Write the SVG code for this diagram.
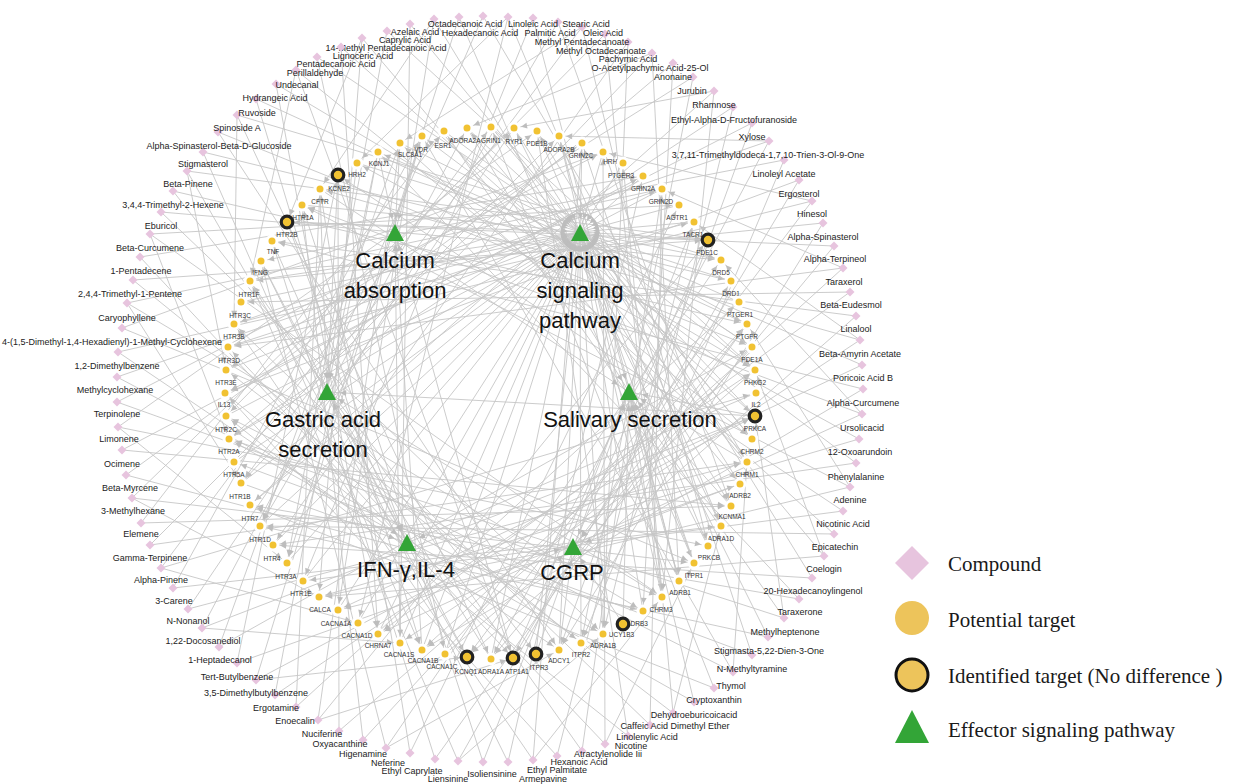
<svg xmlns="http://www.w3.org/2000/svg" width="1238" height="784" viewBox="0 0 1238 784">
<style>
.ce path{stroke:#c6c6c6;stroke-width:0.9;fill:none;marker-end:url(#m1)}
.pe path{stroke:#c6c6c6;stroke-width:0.9;fill:none;marker-end:url(#m2)}
#compounds use{fill:#e7c4de}
#compounds text{font-family:"Liberation Sans",Arial,sans-serif;font-size:9px;fill:#222;text-anchor:middle}
#targets circle{fill:#f1c232;stroke:#fff;stroke-width:3}
#targets circle.id{stroke:#222;stroke-width:3.2}
#targets text{font-family:"Liberation Sans",Arial,sans-serif;font-size:6.5px;fill:#333;text-anchor:middle}
#pathways polygon{fill:#33a537}
#pathways text{font-family:"Liberation Sans",Arial,sans-serif;font-size:22px;fill:#111;text-anchor:middle}
#legend text{font-family:"Liberation Serif","Times New Roman",serif;font-size:21px;fill:#1a1a1a}
</style>
<defs>
<marker id="m1" viewBox="0 0 10 10" refX="22" refY="5" markerWidth="6" markerHeight="6" markerUnits="userSpaceOnUse" orient="auto" overflow="visible"><path d="M0 0L10 5L0 10z" fill="#bdbdbd"/></marker>
<marker id="m2" viewBox="0 0 10 10" refX="32" refY="5" markerWidth="6" markerHeight="6" markerUnits="userSpaceOnUse" orient="auto" overflow="visible"><path d="M0 0L10 5L0 10z" fill="#bdbdbd"/></marker>
<path id="d" d="M0 -4.5L4.5 0L0 4.5L-4.5 0z"/>
</defs>
<rect width="1238" height="784" fill="#fff"/>
<g id="connectors">
<g class="ce">
<path d="M117 377 603 634"/><path d="M117 377 662 189"/>
<path d="M117 402 662 597"/><path d="M117 402 603 152"/>
<path d="M118 427 708 546"/><path d="M118 427 537 131"/><path d="M118 427 287 563"/>
<path d="M122 450 731 506"/><path d="M122 450 643 176"/>
<path d="M126 475 643 611"/><path d="M126 475 582 143"/>
<path d="M132 498 694 563"/><path d="M132 498 514 128"/><path d="M132 498 319 597"/>
<path d="M141 523 731 506"/><path d="M141 523 444 131"/>
<path d="M150 545 747 462"/><path d="M150 545 559 136"/>
<path d="M161 568 756 393"/><path d="M161 568 491 127"/><path d="M161 568 358 623"/>
<path d="M173 588 721 526"/><path d="M173 588 422 136"/>
<path d="M188 609 747 462"/><path d="M188 609 514 128"/>
<path d="M202 628 755 416"/><path d="M202 628 467 128"/><path d="M202 628 400 643"/>
<path d="M219 647 752 347"/><path d="M219 647 400 143"/>
<path d="M237 663 740 484"/><path d="M237 663 338 175"/>
<path d="M256 680 755 416"/><path d="M256 680 422 136"/><path d="M256 680 467 657"/>
<path d="M275 695 755 370"/><path d="M275 695 378 152"/>
<path d="M296 707 739 302"/><path d="M296 707 320 189"/>
<path d="M318 720 708 240"/><path d="M318 720 400 143"/><path d="M318 720 513 658"/>
<path d="M339 731 755 370"/><path d="M339 731 338 175"/>
<path d="M363 740 747 324"/><path d="M363 740 302 205"/>
<path d="M386 748 721 260"/><path d="M386 748 261 261"/><path d="M386 748 559 650"/>
<path d="M410 753 679 205"/><path d="M410 753 320 189"/>
<path d="M435 759 747 324"/><path d="M435 759 272 241"/>
<path d="M458 761 731 281"/><path d="M458 761 250 281"/><path d="M458 761 603 634"/>
<path d="M483 762 694 222"/><path d="M483 762 302 205"/>
<path d="M508 762 643 176"/><path d="M508 762 261 261"/>
<path d="M533 760 582 143"/><path d="M533 760 234 324"/><path d="M533 760 662 597"/>
<path d="M557 756 694 222"/><path d="M557 756 225 393"/>
<path d="M582 751 662 189"/><path d="M582 751 250 281"/>
<path d="M605 744 603 152"/><path d="M605 744 228 347"/><path d="M605 744 694 563"/>
<path d="M628 736 537 131"/><path d="M628 736 226 416"/>
<path d="M650 725 662 189"/><path d="M650 725 234 324"/>
<path d="M673 713 623 163"/><path d="M673 713 226 370"/><path d="M673 713 721 526"/>
<path d="M694 702 559 136"/><path d="M694 702 229 439"/>
<path d="M714 688 491 127"/><path d="M714 688 250 505"/>
<path d="M733 672 422 136"/><path d="M733 672 226 416"/><path d="M733 672 747 462"/>
<path d="M752 655 582 143"/><path d="M752 655 234 462"/>
<path d="M768 637 514 128"/><path d="M768 637 260 526"/>
<path d="M784 618 444 131"/><path d="M784 618 229 439"/><path d="M784 618 755 416"/>
<path d="M799 599 378 152"/><path d="M799 599 250 505"/>
<path d="M812 578 537 131"/><path d="M812 578 273 545"/>
<path d="M824 556 467 128"/><path d="M824 556 319 597"/><path d="M824 556 755 370"/>
<path d="M834 534 400 143"/><path d="M834 534 260 526"/>
<path d="M843 511 338 175"/><path d="M843 511 303 581"/>
<path d="M850 487 302 205"/><path d="M850 487 338 610"/><path d="M850 487 747 324"/>
<path d="M856 463 422 136"/><path d="M856 463 273 545"/>
<path d="M859 439 357 163"/><path d="M859 439 319 597"/>
<path d="M862 414 302 205"/><path d="M862 414 378 634"/><path d="M862 414 721 260"/>
<path d="M863 389 272 241"/><path d="M863 389 422 650"/>
<path d="M862 365 378 152"/><path d="M862 365 338 610"/>
<path d="M860 340 320 189"/><path d="M860 340 400 643"/><path d="M860 340 694 222"/>
<path d="M856 316 272 241"/><path d="M856 316 467 657"/>
<path d="M850 292 241 302"/><path d="M850 292 378 634"/>
<path d="M843 268 228 347"/><path d="M843 268 422 650"/><path d="M843 268 662 189"/>
<path d="M834 246 287 222"/><path d="M834 246 491 659"/>
<path d="M823 223 250 281"/><path d="M823 223 559 650"/>
<path d="M812 201 228 347"/><path d="M812 201 467 657"/><path d="M812 201 603 152"/>
<path d="M799 180 225 393"/><path d="M799 180 513 658"/>
<path d="M784 160 261 261"/><path d="M784 160 581 643"/>
<path d="M769 141 234 324"/><path d="M769 141 491 659"/><path d="M769 141 559 136"/>
<path d="M752 123 225 393"/><path d="M752 123 559 650"/>
<path d="M733 107 229 439"/><path d="M733 107 603 634"/>
<path d="M714 91 250 505"/><path d="M714 91 662 597"/><path d="M714 91 514 128"/>
<path d="M693 77 226 370"/><path d="M693 77 581 643"/>
<path d="M673 63 229 439"/><path d="M673 63 643 611"/>
<path d="M652 53 241 483"/><path d="M652 53 679 581"/><path d="M652 53 467 128"/>
<path d="M628 42 273 545"/><path d="M628 42 603 634"/>
<path d="M605 34 226 416"/><path d="M605 34 662 597"/>
<path d="M582 27 241 483"/><path d="M582 27 708 546"/><path d="M582 27 400 143"/>
<path d="M558 22 260 526"/><path d="M558 22 731 506"/>
<path d="M533 18 303 581"/><path d="M533 18 679 581"/>
<path d="M508 17 358 623"/><path d="M508 17 721 526"/><path d="M508 17 357 163"/>
<path d="M483 16 260 526"/><path d="M483 16 747 462"/>
<path d="M459 17 287 563"/><path d="M459 17 694 563"/>
<path d="M434 19 338 610"/><path d="M434 19 731 506"/><path d="M434 19 320 189"/>
<path d="M410 24 400 643"/><path d="M410 24 752 439"/>
<path d="M387 31 287 563"/><path d="M387 31 755 370"/>
<path d="M362 38 319 597"/><path d="M362 38 740 484"/><path d="M362 38 287 222"/>
<path d="M341 47 378 634"/><path d="M341 47 755 416"/>
<path d="M317 57 445 654"/><path d="M317 57 752 347"/>
<path d="M296 70 513 658"/><path d="M296 70 752 439"/><path d="M296 70 250 281"/>
<path d="M276 84 378 634"/><path d="M276 84 755 370"/>
<path d="M256 99 422 650"/><path d="M256 99 747 324"/>
<path d="M237 115 491 659"/><path d="M237 115 721 260"/><path d="M237 115 234 324"/>
<path d="M218 132 559 650"/><path d="M218 132 752 347"/>
<path d="M203 152 422 650"/><path d="M203 152 731 281"/>
<path d="M187 171 467 657"/><path d="M187 171 708 240"/><path d="M187 171 226 370"/>
<path d="M173 191 536 654"/><path d="M173 191 747 324"/>
<path d="M161 212 603 634"/><path d="M161 212 721 260"/>
<path d="M150 234 662 597"/><path d="M150 234 679 205"/><path d="M150 234 229 439"/>
<path d="M140 257 513 658"/><path d="M140 257 643 176"/>
<path d="M133 280 581 643"/><path d="M133 280 708 240"/>
<path d="M127 303 643 611"/><path d="M127 303 662 189"/><path d="M127 303 241 483"/>
<path d="M122 328 694 563"/><path d="M122 328 603 152"/>
<path d="M118 352 559 650"/><path d="M118 352 694 222"/>
</g>
<g class="pe">
<path d="M400 143 395 232"/><path d="M400 143 580 232"/>
<path d="M422 136 395 232"/>
<path d="M444 131 580 232"/>
<path d="M467 128 580 232"/><path d="M467 128 629 392"/>
<path d="M491 127 580 232"/>
<path d="M514 128 580 232"/>
<path d="M537 131 580 232"/>
<path d="M559 136 629 392"/>
<path d="M582 143 580 232"/>
<path d="M603 152 580 232"/>
<path d="M623 163 580 232"/>
<path d="M643 176 580 232"/>
<path d="M662 189 580 232"/>
<path d="M679 205 580 232"/>
<path d="M694 222 580 232"/>
<path d="M708 240 580 232"/><path d="M708 240 573 547"/>
<path d="M721 260 580 232"/>
<path d="M731 281 580 232"/>
<path d="M739 302 580 232"/>
<path d="M747 324 580 232"/><path d="M747 324 573 547"/>
<path d="M752 347 580 232"/><path d="M752 347 573 547"/>
<path d="M755 370 580 232"/>
<path d="M756 393 407 543"/>
<path d="M755 416 580 232"/><path d="M755 416 629 392"/><path d="M755 416 327 392"/>
<path d="M752 439 580 232"/>
<path d="M747 462 580 232"/><path d="M747 462 629 392"/>
<path d="M740 484 580 232"/><path d="M740 484 573 547"/>
<path d="M731 506 629 392"/>
<path d="M721 526 580 232"/>
<path d="M708 546 580 232"/><path d="M708 546 629 392"/>
<path d="M694 563 580 232"/><path d="M694 563 629 392"/>
<path d="M679 581 580 232"/><path d="M679 581 629 392"/>
<path d="M662 597 580 232"/><path d="M662 597 629 392"/><path d="M662 597 327 392"/>
<path d="M643 611 580 232"/>
<path d="M623 624 573 547"/><path d="M623 624 629 392"/>
<path d="M603 634 580 232"/>
<path d="M581 643 580 232"/>
<path d="M559 650 580 232"/><path d="M559 650 573 547"/>
<path d="M536 654 580 232"/><path d="M536 654 629 392"/>
<path d="M513 658 395 232"/><path d="M513 658 629 392"/>
<path d="M491 659 580 232"/><path d="M491 659 327 392"/>
<path d="M467 657 327 392"/>
<path d="M445 654 580 232"/><path d="M445 654 573 547"/>
<path d="M422 650 580 232"/><path d="M422 650 395 232"/>
<path d="M400 643 580 232"/><path d="M400 643 395 232"/>
<path d="M378 634 580 232"/>
<path d="M358 623 580 232"/>
<path d="M338 610 580 232"/>
<path d="M319 597 573 547"/>
<path d="M303 581 580 232"/>
<path d="M287 563 580 232"/>
<path d="M273 545 580 232"/>
<path d="M260 526 580 232"/>
<path d="M250 505 580 232"/>
<path d="M241 483 580 232"/><path d="M241 483 407 543"/>
<path d="M234 462 580 232"/>
<path d="M229 439 580 232"/>
<path d="M226 416 580 232"/>
<path d="M225 393 407 543"/>
<path d="M226 370 580 232"/>
<path d="M228 347 580 232"/>
<path d="M234 324 580 232"/>
<path d="M241 302 580 232"/>
<path d="M250 281 580 232"/>
<path d="M261 261 407 543"/>
<path d="M272 241 407 543"/>
<path d="M287 222 580 232"/><path d="M287 222 407 543"/>
<path d="M302 205 580 232"/>
<path d="M320 189 629 392"/><path d="M320 189 327 392"/>
<path d="M338 175 327 392"/>
<path d="M357 163 327 392"/><path d="M357 163 580 232"/>
<path d="M378 152 327 392"/><path d="M378 152 395 232"/>
</g>
</g>
<g id="compounds">
<g id="cmp-12dimethylbenzene"><use href="#d" x="117" y="377"/><text x="117" y="369">1,2-Dimethylbenzene</text></g>
<g id="cmp-methylcyclohexane"><use href="#d" x="117" y="402"/><text x="115" y="393">Methylcyclohexane</text></g>
<g id="cmp-terpinolene"><use href="#d" x="118" y="427"/><text x="117" y="417">Terpinolene</text></g>
<g id="cmp-limonene"><use href="#d" x="122" y="450"/><text x="119" y="442">Limonene</text></g>
<g id="cmp-ocimene"><use href="#d" x="126" y="475"/><text x="122" y="467">Ocimene</text></g>
<g id="cmp-betamyrcene"><use href="#d" x="132" y="498"/><text x="130" y="491">Beta-Myrcene</text></g>
<g id="cmp-3methylhexane"><use href="#d" x="141" y="523"/><text x="133" y="514">3-Methylhexane</text></g>
<g id="cmp-elemene"><use href="#d" x="150" y="545"/><text x="141" y="537">Elemene</text></g>
<g id="cmp-gammaterpinene"><use href="#d" x="161" y="568"/><text x="150" y="561">Gamma-Terpinene</text></g>
<g id="cmp-alphapinene"><use href="#d" x="173" y="588"/><text x="161" y="583">Alpha-Pinene</text></g>
<g id="cmp-3carene"><use href="#d" x="188" y="609"/><text x="174" y="604">3-Carene</text></g>
<g id="cmp-nnonanol"><use href="#d" x="202" y="628"/><text x="188" y="624">N-Nonanol</text></g>
<g id="cmp-docosanediol"><use href="#d" x="219" y="647"/><text x="203" y="644">1,22-Docosanediol</text></g>
<g id="cmp-heptadecanol"><use href="#d" x="237" y="663"/><text x="220" y="663">1-Heptadecanol</text></g>
<g id="cmp-tertbutylbenzene"><use href="#d" x="256" y="680"/><text x="237" y="680">Tert-Butylbenzene</text></g>
<g id="cmp-dimethylbutylbenzene"><use href="#d" x="275" y="695"/><text x="256" y="696">3,5-Dimethylbutylbenzene</text></g>
<g id="cmp-ergotamine"><use href="#d" x="296" y="707"/><text x="276" y="711">Ergotamine</text></g>
<g id="cmp-enoecalin"><use href="#d" x="318" y="720"/><text x="295" y="724">Enoecalin</text></g>
<g id="cmp-nuciferine"><use href="#d" x="339" y="731"/><text x="322" y="737">Nuciferine</text></g>
<g id="cmp-oxyacanthine"><use href="#d" x="363" y="740"/><text x="340" y="747">Oxyacanthine</text></g>
<g id="cmp-higenamine"><use href="#d" x="386" y="748"/><text x="363" y="757">Higenamine</text></g>
<g id="cmp-neferine"><use href="#d" x="410" y="753"/><text x="388" y="766">Neferine</text></g>
<g id="cmp-ethylcaprylate"><use href="#d" x="435" y="759"/><text x="412" y="774">Ethyl Caprylate</text></g>
<g id="cmp-liensinine"><use href="#d" x="458" y="761"/><text x="448" y="782">Liensinine</text></g>
<g id="cmp-isoliensinine"><use href="#d" x="483" y="762"/><text x="492" y="777">Isoliensinine</text></g>
<g id="cmp-armepavine"><use href="#d" x="508" y="762"/><text x="543" y="782">Armepavine</text></g>
<g id="cmp-ethylpalmitate"><use href="#d" x="533" y="760"/><text x="557" y="773">Ethyl Palmitate</text></g>
<g id="cmp-hexanoicacid"><use href="#d" x="557" y="756"/><text x="579" y="765">Hexanoic Acid</text></g>
<g id="cmp-atractylenolide"><use href="#d" x="582" y="751"/><text x="608" y="757">Atractylenolide Iii</text></g>
<g id="cmp-nicotine"><use href="#d" x="605" y="744"/><text x="631" y="749">Nicotine</text></g>
<g id="cmp-linolenylicacid"><use href="#d" x="628" y="736"/><text x="647" y="740">Linolenylic Acid</text></g>
<g id="cmp-caffeicacid"><use href="#d" x="650" y="725"/><text x="675" y="729">Caffeic Acid Dimethyl Ether</text></g>
<g id="cmp-dehydroeburicoicacid"><use href="#d" x="673" y="713"/><text x="694" y="718">Dehydroeburicoicacid</text></g>
<g id="cmp-cryptoxanthin"><use href="#d" x="694" y="702"/><text x="714" y="703">Cryptoxanthin</text></g>
<g id="cmp-thymol"><use href="#d" x="714" y="688"/><text x="731" y="689">Thymol</text></g>
<g id="cmp-nmethyltyramine"><use href="#d" x="733" y="672"/><text x="752" y="672">N-Methyltyramine</text></g>
<g id="cmp-stigmastadienone"><use href="#d" x="752" y="655"/><text x="769" y="654">Stigmasta-5,22-Dien-3-One</text></g>
<g id="cmp-methylheptenone"><use href="#d" x="768" y="637"/><text x="785" y="635">Methylheptenone</text></g>
<g id="cmp-taraxerone"><use href="#d" x="784" y="618"/><text x="800" y="615">Taraxerone</text></g>
<g id="cmp-hexadecanoylingenol"><use href="#d" x="799" y="599"/><text x="813" y="594">20-Hexadecanoylingenol</text></g>
<g id="cmp-coelogin"><use href="#d" x="812" y="578"/><text x="824" y="572">Coelogin</text></g>
<g id="cmp-epicatechin"><use href="#d" x="824" y="556"/><text x="835" y="550">Epicatechin</text></g>
<g id="cmp-nicotinicacid"><use href="#d" x="834" y="534"/><text x="843" y="527">Nicotinic Acid</text></g>
<g id="cmp-adenine"><use href="#d" x="843" y="511"/><text x="850" y="503">Adenine</text></g>
<g id="cmp-phenylalanine"><use href="#d" x="850" y="487"/><text x="856" y="480">Phenylalanine</text></g>
<g id="cmp-oxoarundoin"><use href="#d" x="856" y="463"/><text x="860" y="455">12-Oxoarundoin</text></g>
<g id="cmp-ursolicacid"><use href="#d" x="859" y="439"/><text x="862" y="431">Ursolicacid</text></g>
<g id="cmp-alphacurcumene"><use href="#d" x="862" y="414"/><text x="863" y="406">Alpha-Curcumene</text></g>
<g id="cmp-poricoicacidb"><use href="#d" x="863" y="389"/><text x="863" y="381">Poricoic Acid B</text></g>
<g id="cmp-betaamyrinacetate"><use href="#d" x="862" y="365"/><text x="860" y="357">Beta-Amyrin Acetate</text></g>
<g id="cmp-linalool"><use href="#d" x="860" y="340"/><text x="856" y="332">Linalool</text></g>
<g id="cmp-betaeudesmol"><use href="#d" x="856" y="316"/><text x="851" y="308">Beta-Eudesmol</text></g>
<g id="cmp-taraxerol"><use href="#d" x="850" y="292"/><text x="844" y="285">Taraxerol</text></g>
<g id="cmp-alphaterpineol"><use href="#d" x="843" y="268"/><text x="835" y="262">Alpha-Terpineol</text></g>
<g id="cmp-alphaspinasterol"><use href="#d" x="834" y="246"/><text x="823" y="240">Alpha-Spinasterol</text></g>
<g id="cmp-hinesol"><use href="#d" x="823" y="223"/><text x="812" y="217">Hinesol</text></g>
<g id="cmp-ergosterol"><use href="#d" x="812" y="201"/><text x="799" y="197">Ergosterol</text></g>
<g id="cmp-linoleylacetate"><use href="#d" x="799" y="180"/><text x="784" y="177">Linoleyl Acetate</text></g>
<g id="cmp-trimethyldodecatrienolone"><use href="#d" x="784" y="160"/><text x="768" y="158">3,7,11-Trimethyldodeca-1,7,10-Trien-3-Ol-9-One</text></g>
<g id="cmp-xylose"><use href="#d" x="769" y="141"/><text x="752" y="140">Xylose</text></g>
<g id="cmp-ethylfructofuranoside"><use href="#d" x="752" y="123"/><text x="734" y="123">Ethyl-Alpha-D-Fructofuranoside</text></g>
<g id="cmp-rhamnose"><use href="#d" x="733" y="107"/><text x="714" y="108">Rhamnose</text></g>
<g id="cmp-jurubin"><use href="#d" x="714" y="91"/><text x="692" y="94">Jurubin</text></g>
<g id="cmp-anonaine"><use href="#d" x="693" y="77"/><text x="673" y="80">Anonaine</text></g>
<g id="cmp-unlabeled"><use href="#d" x="673" y="63"/></g>
<g id="cmp-acetylpachymicacid"><use href="#d" x="652" y="53"/><text x="650" y="71">O-Acetylpachymic Acid-25-Ol</text></g>
<g id="cmp-pachymicacid"><use href="#d" x="628" y="42"/><text x="628" y="62">Pachymic Acid</text></g>
<g id="cmp-methyloctadecanoate"><use href="#d" x="605" y="34"/><text x="601" y="54">Methyl Octadecanoate</text></g>
<g id="cmp-methylpentadecanoate"><use href="#d" x="582" y="27"/><text x="582" y="45">Methyl Pentadecanoate</text></g>
<g id="cmp-stearicacid"><use href="#d" x="558" y="22"/><text x="586" y="27">Stearic Acid</text></g>
<g id="cmp-oleicacid"><use href="#d" x="533" y="18"/><text x="603" y="36">Oleic Acid</text></g>
<g id="cmp-palmiticacid"><use href="#d" x="508" y="17"/><text x="550" y="36">Palmitic Acid</text></g>
<g id="cmp-linoleicacid"><use href="#d" x="483" y="16"/><text x="533" y="27">Linoleic Acid</text></g>
<g id="cmp-hexadecanoicacid"><use href="#d" x="459" y="17"/><text x="480" y="36">Hexadecanoic Acid</text></g>
<g id="cmp-octadecanoicacid"><use href="#d" x="434" y="19"/><text x="465" y="27">Octadecanoic Acid</text></g>
<g id="cmp-azelaicacid"><use href="#d" x="410" y="24"/><text x="415" y="35">Azelaic Acid</text></g>
<g id="cmp-caprylicacid"><use href="#d" x="387" y="31"/><text x="405" y="43">Caprylic Acid</text></g>
<g id="cmp-methylpentadecanoicacid"><use href="#d" x="362" y="38"/><text x="386" y="51">14-Methyl Pentadecanoic Acid</text></g>
<g id="cmp-lignocericacid"><use href="#d" x="341" y="47"/><text x="363" y="59">Lignoceric Acid</text></g>
<g id="cmp-pentadecanoicacid"><use href="#d" x="317" y="57"/><text x="336" y="67">Pentadecanoic Acid</text></g>
<g id="cmp-perillaldehyde"><use href="#d" x="296" y="70"/><text x="315" y="76">Perillaldehyde</text></g>
<g id="cmp-undecanal"><use href="#d" x="276" y="84"/><text x="297" y="88">Undecanal</text></g>
<g id="cmp-hydrangeicacid"><use href="#d" x="256" y="99"/><text x="275" y="101">Hydrangeic Acid</text></g>
<g id="cmp-ruvoside"><use href="#d" x="237" y="115"/><text x="257" y="116">Ruvoside</text></g>
<g id="cmp-spinosidea"><use href="#d" x="218" y="132"/><text x="237" y="131">Spinoside A</text></g>
<g id="cmp-spinasterolglucoside"><use href="#d" x="203" y="152"/><text x="219" y="149">Alpha-Spinasterol-Beta-D-Glucoside</text></g>
<g id="cmp-stigmasterol"><use href="#d" x="187" y="171"/><text x="203" y="167">Stigmasterol</text></g>
<g id="cmp-betapinene"><use href="#d" x="173" y="191"/><text x="188" y="187">Beta-Pinene</text></g>
<g id="cmp-trimethylhexene"><use href="#d" x="161" y="212"/><text x="173" y="208">3,4,4-Trimethyl-2-Hexene</text></g>
<g id="cmp-eburicol"><use href="#d" x="150" y="234"/><text x="161" y="229">Eburicol</text></g>
<g id="cmp-betacurcumene"><use href="#d" x="140" y="257"/><text x="150" y="251">Beta-Curcumene</text></g>
<g id="cmp-pentadecene"><use href="#d" x="133" y="280"/><text x="141" y="274">1-Pentadecene</text></g>
<g id="cmp-trimethylpentene"><use href="#d" x="127" y="303"/><text x="130" y="297">2,4,4-Trimethyl-1-Pentene</text></g>
<g id="cmp-caryophyllene"><use href="#d" x="122" y="328"/><text x="127" y="321">Caryophyllene</text></g>
<g id="cmp-bisabolene"><use href="#d" x="118" y="352"/><text x="112" y="345">4-(1,5-Dimethyl-1,4-Hexadienyl)-1-Methyl-Cyclohexene</text></g>
</g>
<g id="targets">
<g id="t-slc8a1"><circle cx="400" cy="143" r="5"/><text x="410" y="157">SLC8A1</text></g>
<g id="t-vdr"><circle cx="422" cy="136" r="5"/><text x="421" y="152">VDR</text></g>
<g id="t-esr1"><circle cx="444" cy="131" r="5"/><text x="443" y="148">ESR1</text></g>
<g id="t-adora2a"><circle cx="467" cy="128" r="5"/><text x="465" y="143">ADORA2A</text></g>
<g id="t-grin1"><circle cx="491" cy="127" r="5"/><text x="491" y="143">GRIN1</text></g>
<g id="t-ryr1"><circle cx="514" cy="128" r="5"/><text x="514" y="144">RYR1</text></g>
<g id="t-pde1b"><circle cx="537" cy="131" r="5"/><text x="537" y="146">PDE1B</text></g>
<g id="t-adora2b"><circle cx="559" cy="136" r="5"/><text x="559" y="152">ADORA2B</text></g>
<g id="t-grin2c"><circle cx="582" cy="143" r="5"/><text x="581" y="158">GRIN2C</text></g>
<g id="t-hrh1"><circle cx="603" cy="152" r="5"/><text x="612" y="164">HRH1</text></g>
<g id="t-ptger3"><circle cx="623" cy="163" r="5"/><text x="621" y="178">PTGER3</text></g>
<g id="t-grin2a"><circle cx="643" cy="176" r="5"/><text x="643" y="191">GRIN2A</text></g>
<g id="t-grin2d"><circle cx="662" cy="189" r="5"/><text x="661" y="204">GRIN2D</text></g>
<g id="t-agtr1"><circle cx="679" cy="205" r="5"/><text x="677" y="220">AGTR1</text></g>
<g id="t-tacr1"><circle cx="694" cy="222" r="5"/><text x="693" y="237">TACR1</text></g>
<g id="t-pde1c"><circle class="id" cx="708" cy="240" r="5.8"/><text x="707" y="255">PDE1C</text></g>
<g id="t-drd5"><circle cx="721" cy="260" r="5"/><text x="721" y="275">DRD5</text></g>
<g id="t-drd1"><circle cx="731" cy="281" r="5"/><text x="731" y="296">DRD1</text></g>
<g id="t-ptger1"><circle cx="739" cy="302" r="5"/><text x="740" y="317">PTGER1</text></g>
<g id="t-ptgfr"><circle cx="747" cy="324" r="5"/><text x="747" y="339">PTGFR</text></g>
<g id="t-pde1a"><circle cx="752" cy="347" r="5"/><text x="752" y="362">PDE1A</text></g>
<g id="t-phkg2"><circle cx="755" cy="370" r="5"/><text x="755" y="385">PHKG2</text></g>
<g id="t-il2"><circle cx="756" cy="393" r="5"/><text x="756" y="407">IL2</text></g>
<g id="t-prkca"><circle class="id" cx="755" cy="416" r="5.8"/><text x="755" y="431">PRKCA</text></g>
<g id="t-chrm2"><circle cx="752" cy="439" r="5"/><text x="752" y="454">CHRM2</text></g>
<g id="t-chrm1"><circle cx="747" cy="462" r="5"/><text x="747" y="477">CHRM1</text></g>
<g id="t-adrb2"><circle cx="740" cy="484" r="5"/><text x="740" y="498">ADRB2</text></g>
<g id="t-kcnma1"><circle cx="731" cy="506" r="5"/><text x="732" y="519">KCNMA1</text></g>
<g id="t-adra1d"><circle cx="721" cy="526" r="5"/><text x="721" y="541">ADRA1D</text></g>
<g id="t-prkcb"><circle cx="708" cy="546" r="5"/><text x="709" y="560">PRKCB</text></g>
<g id="t-itpr1"><circle cx="694" cy="563" r="5"/><text x="694" y="578">ITPR1</text></g>
<g id="t-adrb1"><circle cx="679" cy="581" r="5"/><text x="680" y="595">ADRB1</text></g>
<g id="t-chrm3"><circle cx="662" cy="597" r="5"/><text x="661" y="612">CHRM3</text></g>
<g id="t-adrb3"><circle cx="643" cy="611" r="5"/><text x="637" y="626">ADRB3</text></g>
<g id="t-gucy1b3"><circle class="id" cx="623" cy="624" r="5.8"/><text x="619" y="637">GUCY1B3</text></g>
<g id="t-adra1b"><circle cx="603" cy="634" r="5"/><text x="603" y="648">ADRA1B</text></g>
<g id="t-itpr2"><circle cx="581" cy="643" r="5"/><text x="581" y="657">ITPR2</text></g>
<g id="t-adcy1"><circle cx="559" cy="650" r="5"/><text x="559" y="663">ADCY1</text></g>
<g id="t-itpr3"><circle class="id" cx="536" cy="654" r="5.8"/><text x="539" y="670">ITPR3</text></g>
<g id="t-atp1a1"><circle class="id" cx="513" cy="658" r="5.8"/><text x="517" y="674">ATP1A1</text></g>
<g id="t-adra1a"><circle cx="491" cy="659" r="5"/><text x="491" y="674">ADRA1A</text></g>
<g id="t-kcnq1"><circle class="id" cx="467" cy="657" r="5.8"/><text x="466" y="674">KCNQ1</text></g>
<g id="t-cacna1c"><circle cx="445" cy="654" r="5"/><text x="442" y="669">CACNA1C</text></g>
<g id="t-cacna1b"><circle cx="422" cy="650" r="5"/><text x="423" y="663">CACNA1B</text></g>
<g id="t-cacna1s"><circle cx="400" cy="643" r="5"/><text x="399" y="657">CACNA1S</text></g>
<g id="t-chrna7"><circle cx="378" cy="634" r="5"/><text x="378" y="648">CHRNA7</text></g>
<g id="t-cacna1d"><circle cx="358" cy="623" r="5"/><text x="357" y="638">CACNA1D</text></g>
<g id="t-cacna1a"><circle cx="338" cy="610" r="5"/><text x="336" y="626">CACNA1A</text></g>
<g id="t-calca"><circle cx="319" cy="597" r="5"/><text x="320" y="612">CALCA</text></g>
<g id="t-htr1e"><circle cx="303" cy="581" r="5"/><text x="301" y="596">HTR1E</text></g>
<g id="t-htr3a"><circle cx="287" cy="563" r="5"/><text x="286" y="579">HTR3A</text></g>
<g id="t-htr4"><circle cx="273" cy="545" r="5"/><text x="272" y="561">HTR4</text></g>
<g id="t-htr1d"><circle cx="260" cy="526" r="5"/><text x="260" y="542">HTR1D</text></g>
<g id="t-htr7"><circle cx="250" cy="505" r="5"/><text x="250" y="521">HTR7</text></g>
<g id="t-htr1b"><circle cx="241" cy="483" r="5"/><text x="240" y="499">HTR1B</text></g>
<g id="t-htr5a"><circle cx="234" cy="462" r="5"/><text x="234" y="477">HTR5A</text></g>
<g id="t-htr2a"><circle cx="229" cy="439" r="5"/><text x="229" y="454">HTR2A</text></g>
<g id="t-htr2c"><circle cx="226" cy="416" r="5"/><text x="226" y="432">HTR2C</text></g>
<g id="t-il13"><circle cx="225" cy="393" r="5"/><text x="224" y="407">IL13</text></g>
<g id="t-htr3e"><circle cx="226" cy="370" r="5"/><text x="226" y="385">HTR3E</text></g>
<g id="t-htr3d"><circle cx="228" cy="347" r="5"/><text x="229" y="363">HTR3D</text></g>
<g id="t-htr3b"><circle cx="234" cy="324" r="5"/><text x="234" y="339">HTR3B</text></g>
<g id="t-htr3c"><circle cx="241" cy="302" r="5"/><text x="240" y="318">HTR3C</text></g>
<g id="t-htr1f"><circle cx="250" cy="281" r="5"/><text x="249" y="297">HTR1F</text></g>
<g id="t-ifng"><circle cx="261" cy="261" r="5"/><text x="260" y="275">IFNG</text></g>
<g id="t-tnf"><circle cx="272" cy="241" r="5"/><text x="273" y="254">TNF</text></g>
<g id="t-htr2b"><circle class="id" cx="287" cy="222" r="5.8"/><text x="287" y="237">HTR2B</text></g>
<g id="t-htr1a"><circle cx="302" cy="205" r="5"/><text x="303" y="220">HTR1A</text></g>
<g id="t-cftr"><circle cx="320" cy="189" r="5"/><text x="320" y="204">CFTR</text></g>
<g id="t-kcne2"><circle class="id" cx="338" cy="175" r="5.8"/><text x="339" y="191">KCNE2</text></g>
<g id="t-hrh2"><circle cx="357" cy="163" r="5"/><text x="357" y="177">HRH2</text></g>
<g id="t-kcnj1"><circle cx="378" cy="152" r="5"/><text x="379" y="166">KCNJ1</text></g>
</g>
<g id="pathways">
<g id="p-calcium-absorption"><polygon points="395,224 404,241 386,241"/><text x="395" y="268">Calcium</text><text x="395" y="298">absorption</text></g>
<g id="p-calcium-signaling"><polygon points="580,224 589,241 571,241"/><text x="580" y="268">Calcium</text><text x="580" y="298">signaling</text><text x="580" y="328">pathway</text></g>
<g id="p-gastric-acid"><polygon points="327,383 336,400 318,400"/><text x="323" y="427">Gastric acid</text><text x="323" y="457">secretion</text></g>
<g id="p-salivary"><polygon points="629,383 638,400 620,400"/><text x="630" y="427">Salivary secretion</text></g>
<g id="p-ifn-il4"><polygon points="407,534 416,551 398,551"/><text x="406" y="577">IFN-γ,IL-4</text></g>
<g id="p-cgrp"><polygon points="573,538 582,555 564,555"/><text x="572" y="580">CGRP</text></g>
</g>
<g id="legend">
<g id="lg-compound"><path d="M912 546L929 563L912 580L895 563z" fill="#e7c4de"/><text x="948" y="571">Compound</text></g>
<g id="lg-potential"><circle cx="912" cy="618" r="17" fill="#edc45b"/><text x="948" y="627">Potential target</text></g>
<g id="lg-identified"><circle cx="912" cy="675" r="16" fill="#edc45b" stroke="#111" stroke-width="3"/><text x="948" y="683">Identified target (No difference )</text></g>
<g id="lg-pathway"><polygon points="912,710 929,743 895,743" fill="#33a537"/><text x="948" y="737">Effector signaling pathway</text></g>
</g>
</svg>
